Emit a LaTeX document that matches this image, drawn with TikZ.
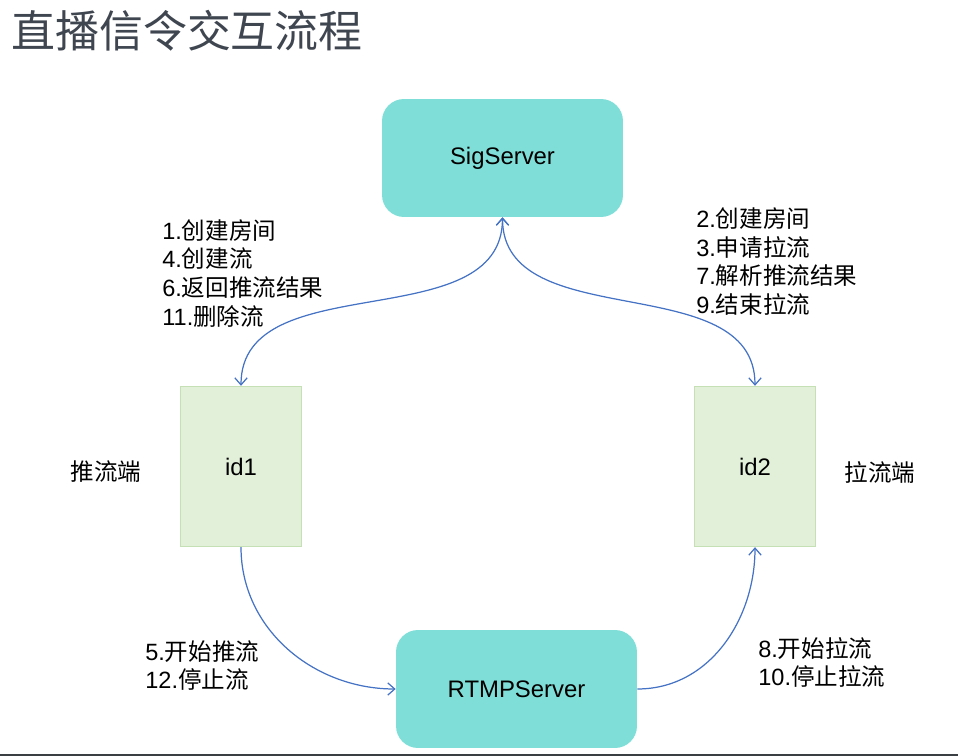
\documentclass[tikz,border=0pt]{standalone}
\usepackage{fontspec}
\setmainfont{Liberation Sans}
\newfontfamily\cjk{Noto Sans CJK SC}
\usetikzlibrary{arrows.meta}
\usetikzlibrary{positioning}
\definecolor{srvfill}{HTML}{7FDFD8}
\definecolor{cltfill}{HTML}{E2F0D9}
\definecolor{cltdraw}{HTML}{C5E0B4}
\definecolor{linkblue}{HTML}{4472C4}
\definecolor{titlegray}{HTML}{3F4650}
\definecolor{edgegray}{HTML}{3A3F44}

\begin{document}
\begin{tikzpicture}[x=0.02cm,y=-0.02cm,
		>={Straight Barb[length=4pt,width=7pt]},
		server/.style={rectangle,rounded corners=12.5pt,fill=srvfill,minimum width=4.82cm,minimum height=2.36cm,font=\fontsize{13.6}{16}\selectfont},
		client/.style={rectangle,draw=cltdraw,line width=0.8pt,fill=cltfill,minimum width=2.42cm,minimum height=3.2cm,font=\fontsize{13.6}{16}\selectfont},
		msg/.style={font=\fontsize{13.4}{16.44}\selectfont,align=left,inner sep=0pt,anchor=west},
		side/.style={font=\fontsize{13.4}{16}\selectfont\cjk,inner sep=0pt},
		link/.style={draw=linkblue,line width=0.7pt}]
		% page frame
		\useasboundingbox (0,0) rectangle (958,756);
		\draw[edgegray,line width=1.2pt] (0,755) -- (958,755);
		
		% title
		\node[anchor=west,inner sep=0pt,text=titlegray,font=\fontsize{25}{30}\selectfont\cjk] (title) at (11,31) {直播信令交互流程};
		
		% servers and clients
		\node[server] (sig) at (502.5,158) {SigServer};
		\node[server] (rtmp) at (516.5,689) {RTMPServer};
		\node[client] (id1) at (241,466.5) {id1};
		\node[client] (id2) at (755,466.5) {id2};
		
		% side labels
		\node[side] (pushside) at (106,472) {推流端};
		\node[side] (pullside) at (880,472) {拉流端};
		
		% signalling steps
		\node[msg] (pushmsg) at (162,273.5) {1.{\cjk 创建房间}\\4.{\cjk 创建流}\\6.{\cjk 返回推流结果}\\11.{\cjk 删除流}};
		\node[msg] (pullmsg) at (696,261.5) {2.{\cjk 创建房间}\\3.{\cjk 申请拉流}\\7.{\cjk 解析推流结果}\\9.{\cjk 结束拉流}};
		\node[msg] (pushmedia) at (145,665.5) {5.{\cjk 开始推流}\\12.{\cjk 停止流}};
		\node[msg] (pullmedia) at (758,662.5) {8.{\cjk 开始拉流}\\10.{\cjk 停止拉流}};
		
		% connectors
		\draw[link,<->] (sig.south) to[out=-90,in=90] (id1.north);
		\draw[link,<->] (sig.south) to[out=-90,in=90] (id2.north);
		\draw[link,->] (id1.south) to[out=-90,in=180] (rtmp.west);
		\draw[link,->] (rtmp.east) to[out=0,in=-90] (id2.south);
	\end{tikzpicture}
\end{document}
